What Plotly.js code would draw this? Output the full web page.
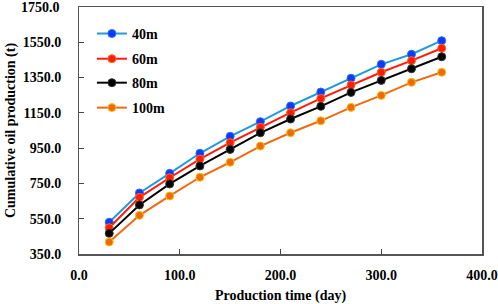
<!DOCTYPE html>
<html>
<head>
<meta charset="utf-8">
<script src="https://cdn.plot.ly/plotly-3.0.1.min.js"></script>
<style>html,body{margin:0;padding:0;background:#fff;}#chart{width:498px;height:304px;}</style>
</head>
<body>
<div id="chart"></div>
<script>
var days = [30, 60, 90, 120, 150, 180, 210, 240, 270, 300, 330, 360];
var s40m = [530, 696, 807, 921, 1017, 1100, 1189, 1268, 1346, 1425, 1482, 1559];
var s60m = [499, 671, 782, 888, 981, 1068, 1151, 1232, 1308, 1380, 1446, 1516];
var s80m = [467, 628, 747, 849, 943, 1037, 1115, 1187, 1266, 1334, 1400, 1468];
var s100m = [418, 569, 679, 785, 870, 962, 1037, 1105, 1181, 1249, 1323, 1380];
var seriesNames = ['40m', '60m', '80m', '100m'];
var xTicks = [0, 100, 200, 300, 400];
var yTicks = [350, 550, 750, 950, 1150, 1350, 1550, 1750];

var styles = [
  {line: '#1E9BE0', fill: '#0A3CF5', edge: '#2F6BFF'},
  {line: '#FF1A0A', fill: '#FF1A0A', edge: '#FF6A1A'},
  {line: '#000000', fill: '#000000', edge: '#333333'},
  {line: '#EE6A12', fill: '#EE6A12', edge: '#FFC000'}
];
var legendIds = ['legend', 'legend2', 'legend3', 'legend4'];
var legendY = [0.891, 0.789, 0.692, 0.591];
var allSeries = [s40m, s60m, s80m, s100m];
var traces = allSeries.map(function(ys, i) {
  return {
    x: days, y: ys, name: seriesNames[i], type: 'scatter', mode: 'lines+markers',
    legend: legendIds[i],
    line: {color: styles[i].line, width: 2},
    marker: {color: styles[i].fill, size: 8, line: {color: styles[i].edge, width: 1}}
  };
});

var serif = 'Liberation Serif, Times New Roman, serif';
var boldFont = {family: serif, size: 14, color: '#000', weight: 'bold'};
var layout = {
  width: 498, height: 304,
  margin: {l: 79, r: 16, t: 7, b: 50},
  paper_bgcolor: '#fff', plot_bgcolor: '#fff',
  font: {family: serif, size: 14, color: '#000'},
  showlegend: true,
  xaxis: {
    range: [0, 400], tickvals: xTicks, ticktext: xTicks.map(function(v){return v.toFixed(1);}),
    ticks: 'inside', ticklen: 5, tickcolor: '#444', showgrid: false, zeroline: false,
    showline: true, linecolor: '#555', linewidth: 1.5, mirror: true, ticklabelstandoff: 8,
    tickfont: boldFont,
    title: {text: 'Production time (day)', font: boldFont, standoff: 8}
  },
  yaxis: {
    range: [350, 1750], tickvals: yTicks,
    ticktext: yTicks.map(function(v){return v === 1750 ? '' : v.toFixed(1) + ' ';}),
    ticks: 'inside', ticklen: 5, tickcolor: '#444', showgrid: false, zeroline: false,
    showline: true, linecolor: '#555', linewidth: 1.5, mirror: true, ticklabelstandoff: 10,
    automargin: false,
    tickfont: boldFont,
    title: {text: 'Cumulative oil production (t)', font: boldFont, standoff: 4}
  },
  annotations: [{
    xref: 'paper', yref: 'y', x: 0, y: 1750, xanchor: 'right', yanchor: 'middle',
    xshift: -17, text: (1750).toFixed(1), showarrow: false, font: boldFont
  }]
};
legendIds.forEach(function(id, i) {
  layout[id] = {
    x: 0.032, y: legendY[i], xanchor: 'left', yanchor: 'middle',
    bgcolor: 'rgba(0,0,0,0)', borderwidth: 0, font: boldFont
  };
});
Plotly.newPlot('chart', traces, layout, {displayModeBar: false, staticPlot: true});
</script>
</body>
</html>
